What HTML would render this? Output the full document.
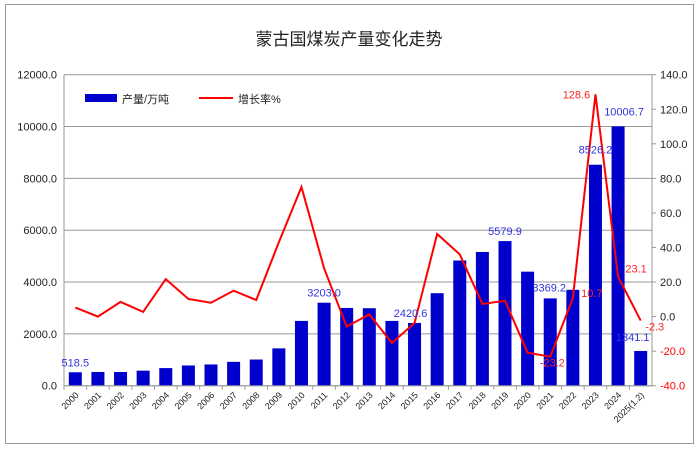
<!DOCTYPE html>
<html><head><meta charset="utf-8"><style>
body{margin:0;background:#fff;}
svg text{font-family:"Liberation Sans","Noto Sans CJK SC",sans-serif;}
</style></head><body>
<svg width="699" height="450" xmlns="http://www.w3.org/2000/svg">
<rect x="5.5" y="4.5" width="688" height="439" fill="#fff" stroke="#999"/>
<text x="349" y="45" text-anchor="middle" font-size="17" fill="#222">蒙古国煤炭产量变化走势</text>
<g id="grid"></g><g id="bars"></g><g id="line"></g><g id="axes"></g><g id="labels"></g>
<g>
<rect x="85" y="94" width="32" height="8" fill="#0000cc"/>
<text x="122" y="103" font-size="11" fill="#222">产量/万吨</text>
<line x1="199" y1="98" x2="233" y2="98" stroke="#ff0000" stroke-width="2"/>
<text x="238" y="103" font-size="11" fill="#222">增长率%</text>
</g>
</svg>
<script>
const categories=["2000","2001","2002","2003","2004","2005","2006","2007","2008","2009","2010","2011","2012","2013","2014","2015","2016","2017","2018","2019","2020","2021","2022","2023","2024","2025(1.2)"];
const production=[518.5,530,530,580,680,780,820,920,1010,1440,2500,3203.0,3000,2990,2500,2420.6,3570,4830,5160,5579.9,4400,3369.2,3700,8526.2,10006.7,1341.1];
const growth=[5.2,0,8.5,2.7,21.7,10.2,8,15,9.6,43,75,28,-5.8,1.3,-15.3,-3.7,47.8,36,7.3,9.2,-20.9,-23.2,10.7,128.6,23.1,-2.3];
const leftTicks=[0,2000,4000,6000,8000,10000,12000];
const rightTicks=[-40,-20,0,20,40,60,80,100,120,140];
const prodLabelIdx=[0,11,15,19,21,23,24,25];
const growthLabelIdx=[21,22,23,24,25];
const X0=64,X1=652,YT=74.7,YB=385.7;
const NS="http://www.w3.org/2000/svg";
const bw=(X1-X0)/categories.length;
const xc=i=>X0+bw*(i+0.5);
const yL=v=>YB-(v/12000)*(YB-YT);
const yR=v=>YB-((v+40)/180)*(YB-YT);
function mk(t,a,p,txt){const e=document.createElementNS(NS,t);for(const k in a)e.setAttribute(k,a[k]);if(txt!==undefined)e.textContent=txt;document.getElementById(p).appendChild(e);return e;}
leftTicks.forEach(v=>{
 const g=mk('line',{x1:X0,x2:X1,y1:yL(v),y2:yL(v),stroke:'#999','stroke-width':1},'grid');
 
 
 const t=mk('text',{x:X0-7,y:yL(v)+4,'text-anchor':'end','font-size':11,fill:'#222'},'axes',v.toFixed(1));
 
 
});
rightTicks.forEach(v=>{
 const t=mk('text',{x:X1+8,y:yR(v)+4,'font-size':11,fill:v<0?'#ff0000':'#222'},'axes',v.toFixed(1));
 
 
 const tk=mk('line',{x1:X1,x2:X1+4,y1:yR(v),y2:yR(v),stroke:'#999'},'axes');
 
 
});
[['left-axis',X0,YT,X0,YB],['right-axis',X1,YT,X1,YB],['x-axis',X0,YB,X1,YB]].forEach(a=>{
 const l=mk('line',{x1:a[1],y1:a[2],x2:a[3],y2:a[4],stroke:'#999'},'axes');
 
 
});
categories.forEach((c,i)=>{
 const tk=mk('line',{x1:X0+bw*i,x2:X0+bw*i,y1:YB,y2:YB+4,stroke:'#999'},'axes');
 
 
 const x=xc(i)+4,y=YB+10;
 const t=mk('text',{x:x,y:y,'text-anchor':'end','font-size':9,fill:'#222',transform:`rotate(-45 ${x} ${y})`},'axes',c);
 
 
});
production.forEach((v,i)=>{
 const r=mk('rect',{x:xc(i)-6.5,y:yL(v),width:13,height:YB-yL(v),fill:'#0000cc'},'bars');
 
 
});
const pts=growth.map((v,i)=>xc(i)+','+yR(v)).join(' ');
const pl=mk('polyline',{points:pts,fill:'none',stroke:'#ff0000','stroke-width':2,'stroke-linejoin':'miter'},'line');


const prodOff={0:[0,-6],11:[0,-6],15:[-4,-6],19:[0,-6],21:[-1,-7],23:[0,-11],24:[6,-11],25:[-8,-10]};
prodLabelIdx.forEach(i=>{
 const o=prodOff[i]||[0,-6];
 const t=mk('text',{x:xc(i)+o[0],y:yL(production[i])+o[1],'text-anchor':'middle','font-size':11,fill:'#3333dd'},'labels',production[i].toFixed(1));
 
 
});
const grOff={21:[2,10],22:[19,-1],23:[-19,4],24:[18,-4],25:[14,10]};
growthLabelIdx.forEach(i=>{
 const o=grOff[i]||[0,-6];
 const t=mk('text',{x:xc(i)+o[0],y:yR(growth[i])+o[1],'text-anchor':'middle','font-size':11,fill:'#ff2222'},'labels',growth[i].toFixed(1));
 
 
});
</script>
</body></html>
